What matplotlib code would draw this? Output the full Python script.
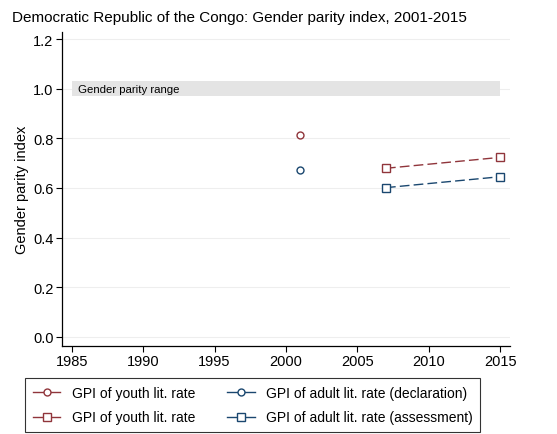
import matplotlib
matplotlib.use('Agg')
import matplotlib.pyplot as plt
from matplotlib.lines import Line2D

# Data
youth_decl_years = [2001]
youth_decl_vals = [0.813]
adult_decl_years = [2001]
adult_decl_vals = [0.671]
youth_assess_years = [2007, 2015]
youth_assess_vals = [0.679, 0.723]
adult_assess_years = [2007, 2015]
adult_assess_vals = [0.601, 0.645]

x_ticks = [1985, 1990, 1995, 2000, 2005, 2010, 2015]
y_ticks = [0.0, 0.2, 0.4, 0.6, 0.8, 1.0, 1.2]
parity_low, parity_high = 0.97, 1.03

RED = '#90353b'
BLUE = '#1a476f'

plt.rcParams['font.family'] = ['Liberation Sans', 'DejaVu Sans']

fig = plt.figure(figsize=(5.57, 4.35), dpi=100)
ax = fig.add_axes([0.111, 0.203, 0.805, 0.721])

# Gender parity band
ax.fill_between([x_ticks[0], x_ticks[-1]], parity_low, parity_high,
                color='#e4e4e4', linewidth=0, zorder=1)
ax.text(x_ticks[0] + 0.45, 1.0, 'Gender parity range', fontsize=8.2,
        va='center', ha='left', zorder=2)

# Series
ax.plot(youth_decl_years, youth_decl_vals, linestyle='none', marker='o',
        markersize=5, markerfacecolor='none', markeredgecolor=RED, zorder=3)
ax.plot(adult_decl_years, adult_decl_vals, linestyle='none', marker='o',
        markersize=5, markerfacecolor='none', markeredgecolor=BLUE, zorder=3)
ax.plot(youth_assess_years, youth_assess_vals, linestyle=(0, (7, 3)), color=RED,
        linewidth=1, marker='s', markersize=5.5, markerfacecolor='white',
        markeredgecolor=RED, zorder=3)
ax.plot(adult_assess_years, adult_assess_vals, linestyle=(0, (7, 3)), color=BLUE,
        linewidth=1, marker='s', markersize=5.5, markerfacecolor='white',
        markeredgecolor=BLUE, zorder=3)

ax.set_xlim(1984.3, 2015.7)
ax.set_ylim(-0.036, 1.228)
ax.set_xticks(x_ticks)
ax.set_yticks(y_ticks)
ax.set_yticklabels([f'{v:.1f}' for v in y_ticks])
ax.tick_params(labelsize=10.5, length=4, width=0.8, color='black', pad=2)
for y in y_ticks:
    ax.axhline(y, color='#eeeeee', linewidth=0.8, zorder=0)

ax.spines['top'].set_visible(False)
ax.spines['right'].set_visible(False)
ax.spines['left'].set_linewidth(0.9)
ax.spines['bottom'].set_linewidth(0.9)

ax.set_ylabel('Gender parity index', fontsize=10.5, labelpad=3)
fig.text(0.022, 0.958, 'Democratic Republic of the Congo: Gender parity index, 2001-2015',
         fontsize=11, ha='left', va='center')

handles = [
    Line2D([], [], color=RED, linewidth=1, marker='o', markersize=5,
           markerfacecolor='white', markeredgecolor=RED),
    Line2D([], [], color=RED, linewidth=1, marker='s', markersize=5.5,
           markerfacecolor='white', markeredgecolor=RED),
    Line2D([], [], color=BLUE, linewidth=1, marker='o', markersize=5,
           markerfacecolor='white', markeredgecolor=BLUE),
    Line2D([], [], color=BLUE, linewidth=1, marker='s', markersize=5.5,
           markerfacecolor='white', markeredgecolor=BLUE),
]
labels = ['GPI of youth lit. rate', 'GPI of youth lit. rate',
          'GPI of adult lit. rate (declaration)', 'GPI of adult lit. rate (assessment)']
leg = fig.legend(handles, labels, ncol=2, loc='upper left',
                 bbox_to_anchor=(0.045, 0.128), fontsize=10, frameon=True,
                 fancybox=False, edgecolor='black', handlelength=2.0,
                 columnspacing=2.3, borderpad=0.55, labelspacing=0.75,
                 handletextpad=0.8, borderaxespad=0)
leg.get_frame().set_linewidth(0.8)

plt.savefig('out.png', dpi=100, facecolor='white')
plt.close()
